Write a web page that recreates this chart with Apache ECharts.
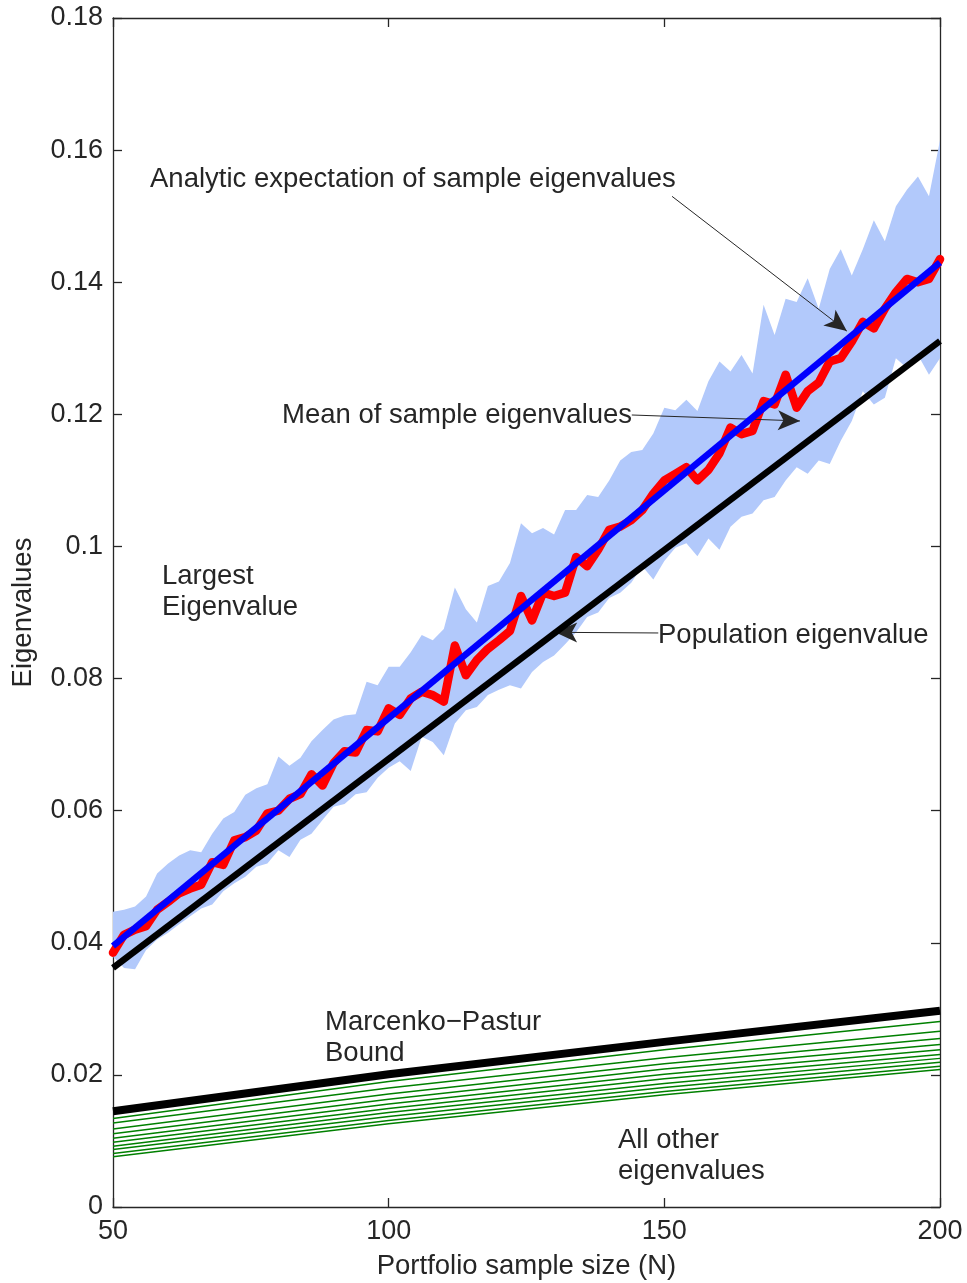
<!DOCTYPE html>
<html>
<head>
<meta charset="utf-8">
<script src="https://cdn.jsdelivr.net/npm/echarts@6/dist/echarts.min.js"></script>
<style>
  html, body { margin: 0; padding: 0; background: #fff; }
  #chart { width: 967px; height: 1283px; }
</style>
</head>
<body>
<div id="chart"></div>
<script>
// portfolio sample size N
const sampleSize = [50,52,54,56,58,60,62,64,66,68,70,72,74,76,78,80,82,84,86,88,
  90,92,94,96,98,100,102,104,106,108,110,112,114,116,118,120,122,124,126,128,
  130,132,134,136,138,140,142,144,146,148,150,152,154,156,158,160,162,164,166,168,
  170,172,174,176,178,180,182,184,186,188,190,192,194,196,198,200];

// light blue band (spread of simulated largest eigenvalue)
const bandUpper = [.0447,.0450,.0455,.0470,.0505,.0520,.0532,.0540,.0537,.0565,
  .0588,.0598,.0624,.0634,.0640,.0682,.0668,.0680,.0705,.0722,
  .0738,.0744,.0746,.0795,.0790,.0818,.0818,.0840,.0866,.0858,
  .0875,.0938,.0905,.0885,.0940,.0947,.0975,.1035,.1020,.1028,
  .1018,.1055,.1055,.1078,.1075,.1100,.1130,.1143,.1146,.1171,
  .1210,.1206,.1222,.1205,.1250,.1280,.1265,.1290,.1262,.1366,
  .1320,.1375,.1370,.1406,.1360,.1420,.1450,.1410,.1450,.1494,
  .1462,.1515,.1540,.1560,.1530,.1615];
const bandLower = [.0379,.0362,.0360,.0389,.0405,.0415,.0428,.0440,.0452,.0458,
  .0478,.0490,.0500,.0515,.0520,.0540,.0530,.0556,.0565,.0586,
  .0606,.0610,.0625,.0628,.0650,.0665,.0675,.0660,.0712,.0704,
  .0684,.0732,.0752,.0757,.0775,.0783,.0790,.0785,.0810,.0825,
  .0835,.0852,.0870,.0893,.0900,.0922,.0930,.0945,.0970,.0950,
  .0978,.0998,.1005,.0985,.1012,.0995,.1030,.1045,.1050,.1070,
  .1075,.1100,.1120,.1110,.1130,.1125,.1160,.1190,.1235,.1215,
  .1225,.1285,.1270,.1290,.1260,.1285];

// mean of sample eigenvalues (red)
const meanSample = [.0385,.0412,.0420,.0425,.0450,.0462,.0475,.0482,.0488,.0522,
  .0518,.0555,.0560,.0570,.0596,.0600,.0618,.0625,.0655,.0638,
  .0672,.0690,.0688,.0722,.0720,.0755,.0745,.0770,.0780,.0775,
  .0765,.0850,.0805,.0828,.0845,.0858,.0872,.0925,.0888,.0930,
  .0925,.0930,.0984,.0970,.0995,.1025,.1030,.1040,.1055,.1080,
  .1100,.1110,.1120,.1100,.1116,.1141,.1180,.1170,.1175,.1220,
  .1215,.1260,.1210,.1235,.1248,.1280,.1285,.1310,.1340,.1330,
  .1360,.1385,.1405,.1400,.1405,.1435];

// straight lines, end points
const lineEnds = [50, 200];
const analytic = [.0395, .1430];
const population = [.0362, .1311];

// Marcenko-Pastur bound and the other eigenvalues
const smallN = [50, 100, 150, 200];
const mpBound = [.0145, .0201, .0250, .0297];
const otherEig = [
  [.0134, .0190, .0238, .0281],
  [.0127, .0180, .0226, .0266],
  [.0118, .0171, .0217, .0255],
  [.0111, .0163, .0209, .0246],
  [.0104, .0156, .0201, .0238],
  [.0098, .0149, .0194, .0231],
  [.0092, .0143, .0187, .0225],
  [.0087, .0137, .0181, .0219],
  [.0081, .0131, .0175, .0213],
  [.0076, .0126, .0170, .0208]
];

const FONT = 'Liberation Sans, Arial, sans-serif';
const INK = '#262626';
const pair = (xs, ys) => xs.map((x, i) => [x, ys[i]]);

const chart = echarts.init(document.getElementById('chart'));

const series = [];
// band as one polygon: upper edge left->right, lower edge right->left
series.push({
  type: 'custom', silent: true, z: 1,
  data: [[sampleSize[0], bandLower[0]]],
  renderItem: (params, api) => {
    const top = sampleSize.map((x, i) => api.coord([x, bandUpper[i]]));
    const bottom = sampleSize.map((x, i) => api.coord([x, bandLower[i]])).reverse();
    return {
      type: 'polygon',
      shape: { points: top.concat(bottom) },
      style: { fill: '#b2c9fb' }
    };
  }
});
otherEig.forEach(vals => {
  series.push({
    type: 'line', symbol: 'none', silent: true,
    data: pair(smallN, vals),
    lineStyle: { color: '#008000', width: 1.5 }, z: 2
  });
});
series.push({
  type: 'line', symbol: 'none', silent: true,
  data: pair(smallN, mpBound),
  lineStyle: { color: '#000', width: 8 }, z: 3
});
series.push({
  type: 'line', symbol: 'none', silent: true,
  data: pair(sampleSize, meanSample),
  lineStyle: { color: '#ff0000', width: 8.5, join: 'round', cap: 'round' }, z: 4
});
series.push({
  type: 'line', symbol: 'none', silent: true,
  data: pair(lineEnds, analytic),
  lineStyle: { color: '#0000ff', width: 6.5 }, z: 5
});
series.push({
  type: 'line', symbol: 'none', silent: true,
  data: pair(lineEnds, population),
  lineStyle: { color: '#000', width: 6.5 }, z: 6,
  markLine: {
    silent: true,
    symbol: ['none', 'arrow'],
    symbolSize: 18,
    label: { show: false },
    lineStyle: { color: INK, width: 1, type: 'solid' },
    data: [
      [{ coord: [151.4, 0.1530] }, { coord: [183.1, 0.1326], symbolSize: [15, 22] }],
      [{ coord: [144.1, 0.1199] }, { coord: [174.6, 0.1190], symbolSize: [15, 22] }],
      [{ coord: [148.9, 0.0869] }, { coord: [130.2, 0.0870], symbolSize: [15, 22] }]
    ]
  }
});

const txt = (text, left, top) => ({
  type: 'text', left, top, silent: true, z: 100,
  style: { text, font: '27.5px ' + FONT, fill: INK, lineHeight: 31 }
});

const tickStyle = { show: true, inside: true, length: 9, lineStyle: { color: INK, width: 1.3 } };
const lineStyle = { show: true, onZero: false, lineStyle: { color: INK, width: 1.3 } };

chart.setOption({
  animation: false,
  backgroundColor: '#fff',
  grid: { left: 113, right: 27, top: 18, bottom: 76, outerBoundsMode: 'none', containLabel: false },
  xAxis: [{
    type: 'value', min: 50, max: 200, interval: 50,
    name: 'Portfolio sample size (N)', nameLocation: 'middle', nameGap: 45,
    nameTextStyle: { fontSize: 27.5, fontFamily: FONT, color: INK },
    axisLine: lineStyle, axisTick: tickStyle,
    axisLabel: { fontSize: 27, fontFamily: FONT, color: INK, margin: 11 },
    splitLine: { show: false }
  }, {
    type: 'value', position: 'top', min: 50, max: 200, interval: 50,
    axisLine: lineStyle, axisTick: tickStyle,
    axisLabel: { show: false }, splitLine: { show: false }
  }],
  yAxis: [{
    type: 'value', min: 0, max: 0.18, interval: 0.02,
    name: 'Eigenvalues', nameLocation: 'middle', nameGap: 76, nameRotate: 90,
    nameTextStyle: { fontSize: 27.5, fontFamily: FONT, color: INK },
    axisLine: lineStyle, axisTick: tickStyle,
    axisLabel: { fontSize: 27, fontFamily: FONT, color: INK, margin: 10,
      formatter: v => String(+v.toFixed(2)) },
    splitLine: { show: false }
  }, {
    type: 'value', position: 'right', min: 0, max: 0.18, interval: 0.02,
    axisLine: lineStyle, axisTick: tickStyle,
    axisLabel: { show: false }, splitLine: { show: false }
  }],
  series: series,
  graphic: [
    txt('Analytic expectation of sample eigenvalues', 150, 164),
    txt('Mean of sample eigenvalues', 282, 400),
    txt('Population eigenvalue', 658, 620),
    txt('Largest\nEigenvalue', 162, 561),
    txt('Marcenko\u2212Pastur\nBound', 325, 1007),
    txt('All other\neigenvalues', 618, 1125)
  ]
});
</script>
</body>
</html>
